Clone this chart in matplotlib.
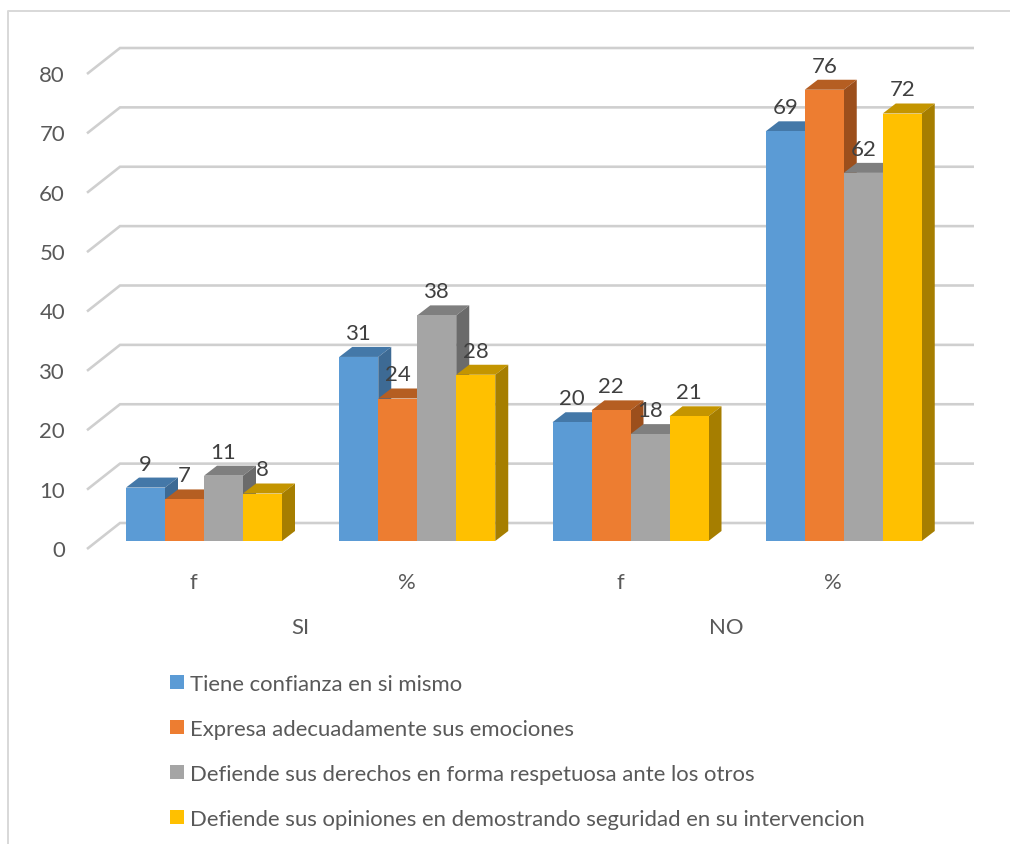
# --- 3D look clustered columns, drawn on a plain 2D axes
import matplotlib
matplotlib.use("Agg")
import matplotlib.pyplot as plt
from matplotlib.lines import Line2D
from matplotlib.patches import Patch, Polygon
from matplotlib.transforms import ScaledTranslation

plt.rcParams['font.family'] = ['Lato', 'DejaVu Sans']

categories = ["f", "%", "f", "%"]
groups = ["SI", "NO"]
series_names = [
    "Tiene confianza en si mismo",
    "Expresa adecuadamente sus emociones",
    "Defiende sus derechos en forma respetuosa ante los otros",
    "Defiende sus opiniones en demostrando seguridad en su intervencion",
]
confianza = [9, 31, 20, 69]
emociones = [7, 24, 22, 76]
derechos = [11, 38, 18, 62]
opiniones = [8, 28, 21, 72]
y_ticks = [0, 10, 20, 30, 40, 50, 60, 70, 80]

front_colors = ["#5B9BD5", "#ED7D31", "#A5A5A5", "#FFC000"]
top_colors = ["#4478A8", "#B55E22", "#7F7F7F", "#C49500"]
side_colors = ["#3D6A94", "#9C4F1C", "#6B6B6B", "#A67E00"]

W, H = 1010, 845
FS = 15.9
fig = plt.figure(figsize=(W / 100, H / 100), dpi=100)


def pt(pixels):
    return pixels * 0.72


# --- axes: x=0 at px 87, x=4 at px 940, y=0 at px 542, y=80 at px 67
x0, x1, y0, y1 = 87, 940, 542, 67
ax = fig.add_axes([x0 / W, 1 - y0 / H, (x1 - x0) / W, (y0 - y1) / H])
ax.set_xlim(0, 4)
ax.set_ylim(0, 80)
ax.patch.set_alpha(0)
for s in ax.spines.values():
    s.set_visible(False)

x_unit = (x1 - x0) / 4
y_unit = (y0 - y1) / 80
depth_x = 13 / x_unit
depth_y = 10 / y_unit
wall_x = 33 / x_unit
wall_low = (542 - 550) / y_unit
wall_high = (542 - 524) / y_unit
grid_end = (974 - x0) / x_unit

# --- gridlines with the short diagonal on the left wall
for v in y_ticks:
    ax.plot([0, wall_x, grid_end], [v + wall_low, v + wall_high, v + wall_high],
            color="#CFCFCF", lw=pt(2.6), clip_on=False, zorder=1,
            solid_joinstyle="miter", solid_capstyle="butt")

# --- columns, left to right so each front hides the neighbour's side
bar_w = 39 / x_unit
start = 39 / x_unit
all_series = [confianza, emociones, derechos, opiniones]
z = 2
for c in range(len(categories)):
    for i, values in enumerate(all_series):
        val = values[c]
        left = c + start + i * bar_w
        right = left + bar_w
        ax.add_patch(Polygon([(left, val), (right, val), (right + depth_x, val + depth_y), (left + depth_x, val + depth_y)],
                             closed=True, fc=top_colors[i], ec="none", clip_on=False, zorder=z))
        ax.add_patch(Polygon([(right, 0), (right + depth_x, depth_y), (right + depth_x, val + depth_y), (right, val)],
                             closed=True, fc=side_colors[i], ec="none", clip_on=False, zorder=z))
        ax.bar(left, val, width=bar_w, align="edge", color=front_colors[i], clip_on=False, zorder=z + 0.5)
        z += 1

for c in range(len(categories)):
    for i, values in enumerate(all_series):
        val = values[c]
        ax.annotate(str(val), (c + start + (i + 0.5) * bar_w, val), xytext=(0, pt(24)),
                    textcoords="offset points", ha="center", va="center",
                    fontsize=FS, color="#404040", zorder=100, annotation_clip=False)

# --- axis labels
ax.set_yticks(y_ticks)
ax.set_xticks([c + 0.5 for c in range(len(categories))])
ax.set_xticklabels(categories)
ax.tick_params(axis="both", length=0, labelsize=FS, labelcolor="#595959")
ax.tick_params(axis="y", pad=pt(22))
ax.tick_params(axis="x", pad=pt(31))
shift = ScaledTranslation(0, -7 / 100, fig.dpi_scale_trans)
for lab in ax.get_yticklabels():
    lab.set_transform(lab.get_transform() + shift)

for g, name in enumerate(groups):
    ax.annotate(name, (2 * g + 1, 0), xytext=(0, -pt(86)), textcoords="offset points",
                ha="center", va="center", fontsize=FS, color="#595959", annotation_clip=False)

# --- legend
handles = [Patch(fc=col, ec="none") for col in front_colors]
fig.legend(handles, series_names, loc="upper left", bbox_to_anchor=(170 / W, 1 - 675 / H),
           frameon=False, fontsize=FS, labelcolor="#595959", handlelength=0.634,
           handleheight=0.634, handletextpad=0.27, labelspacing=1.13, borderpad=0, borderaxespad=0)

# --- chart frame, right side falls outside the picture
fig.add_artist(Line2D([8 / W, 8 / W, 1], [0, 1 - 12 / H, 1 - 12 / H], color="#D9D9D9", lw=pt(2)))

fig.savefig("out.png", dpi=100)
